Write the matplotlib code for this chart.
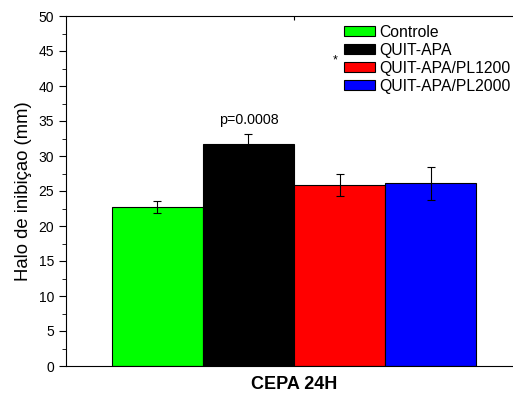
import numpy as np
import matplotlib.pyplot as plt
from matplotlib.ticker import MultipleLocator

plt.rcParams['font.family'] = ['Liberation Sans', 'DejaVu Sans']

grupos = ['Controle', 'QUIT-APA', 'QUIT-APA/PL1200', 'QUIT-APA/PL2000']
halo = [22.7, 31.7, 25.9, 26.1]
erro = [0.85, 1.4, 1.6, 2.4]
cores = ['#00ff00', '#000000', '#ff0000', '#0000ff']

fig = plt.figure(figsize=(5.13, 3.97), dpi=100)
ax = fig.add_axes([66/513, 31/397, 456/513, 350/397])

largura = 0.2
pos = (np.arange(len(grupos)) - 1.5) * largura
for p, h, e, c, g in zip(pos, halo, erro, cores, grupos):
    ax.bar(p, h, width=largura, color=c, edgecolor='black', linewidth=0.8,
           label=g, zorder=2)
    ax.errorbar(p, h, yerr=e, fmt='none', ecolor='black', elinewidth=0.8,
                capsize=3, capthick=0.8, zorder=3)

ax.text(pos[1], halo[1] + 3.5, 'p=0.0008', ha='center', va='center', fontsize=10.3)
ax.text(0.09, 43.6, '*', ha='center', va='center', fontsize=9)

ax.set_xlim(-0.5, 0.5)
ax.set_ylim(0, 50)
ax.yaxis.set_major_locator(MultipleLocator(5))
ax.yaxis.set_minor_locator(MultipleLocator(2.5))
ax.set_xticks([0])
ax.set_xticklabels([''])
ax.tick_params(axis='x', top=True, bottom=False, direction='in', length=3)
ax.tick_params(axis='y', which='major', length=5, labelsize=10)
ax.tick_params(axis='y', which='minor', length=3)
ax.set_xlabel('CEPA 24H', fontweight='bold', fontsize=13, labelpad=4)
ax.set_ylabel('Halo de inibiçao (mm)', fontsize=13.3, labelpad=5)

leg = ax.legend(loc='upper left', bbox_to_anchor=(0.609, 0.975), frameon=False,
                fontsize=11.3, handlelength=1.97, handleheight=0.64,
                handletextpad=0.3, labelspacing=0.19, borderaxespad=0,
                borderpad=0)

fig.savefig('out.png', dpi=100)
